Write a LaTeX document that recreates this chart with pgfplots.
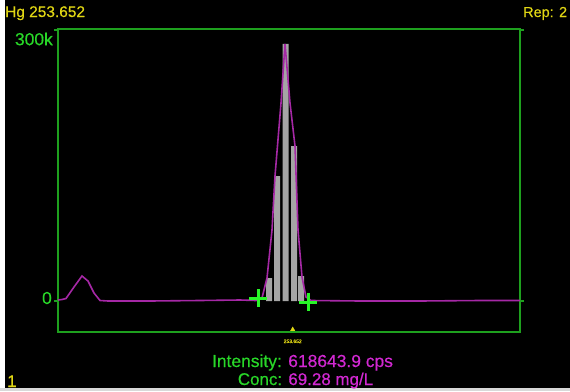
\documentclass[border=0pt]{standalone}
\usepackage{pgfplots}
\pgfplotsset{compat=1.18}
\usepackage{fontspec}
\setmainfont{Liberation Sans}
\newfontfamily\semib{Liberation Sans}[FakeBold=0.4]
\definecolor{axgreen}{RGB}{30,160,30}
\definecolor{lgreen}{RGB}{40,215,40}
\definecolor{crossgreen}{RGB}{40,245,40}
\definecolor{yel}{RGB}{225,215,20}
\definecolor{mag}{RGB}{210,40,210}
\definecolor{purp}{RGB}{165,40,165}
\definecolor{bargray}{RGB}{165,165,165}
\begin{document}
\begin{tikzpicture}[x=1bp,y=1bp]
\useasboundingbox (0,0) rectangle (570,391);
\fill[black] (0,0) rectangle (570,391);
\fill[white] (0,0) rectangle (5,391);
\fill[black!15] (0,0) rectangle (570,3);
\begin{axis}[
  at={(58bp,59bp)}, anchor=south west,
  scale only axis, width=462bp, height=303bp,
  xmin=0, xmax=462, ymin=-34317, ymax=301107,
  axis line style={axgreen, line width=1.6bp},
  xtick={234.7}, xticklabels={253.652},
  xtick style={draw=none},
  xticklabel style={font=\semib\fontsize{5}{5}\selectfont, text=yel},
  ytick={0,300000}, yticklabels={,},
  scaled y ticks=false,
  tick align=outside, major tick length=4bp,
  ytick style={axgreen, line width=1.6bp},
  clip=false,
]
\addplot[ybar, bar width=6, fill=bargray, draw=none] coordinates {
  (211,25461) (219,138375) (227.5,284499) (236,171585) (243,27675)
};
\addplot[purp, line width=1.6bp] coordinates {
  (0,1107) (4,1660) (8,2767) (16,15498) (24,27675) (30,22140) (36,8856)
  (42,554) (50,0) (92,0) (142,554) (182,1107) (198,554) (204,3321)
  (209,25461) (214,78597) (217,138375) (223,219186) (227,284499)
  (232,219186) (237,171585) (240,78597) (244,26568) (248,4428)
  (253,554) (302,0) (362,0) (422,554) (462,554)
};
\addplot[only marks, mark=+, mark size=9bp, crossgreen, line width=3bp] coordinates {
  (200,3321) (250,-1107)
};
\addplot[only marks, mark=triangle*, mark size=2.5bp, yel] coordinates {
  (234.7,-31550)
};
\end{axis}
\node[anchor=east, text=lgreen, font=\semib\fontsize{17.5}{19}\selectfont, inner sep=0pt] at (53,352) {300k};
\node[anchor=east, text=lgreen, font=\semib\fontsize{17.5}{19}\selectfont, inner sep=0pt] at (52,93) {0};
\node[anchor=base west, text=yel, font=\semib\fontsize{15.5}{17}\selectfont, inner sep=0pt] at (5,374) {Hg 253.652};
\node[anchor=base west, text=yel, font=\semib\fontsize{14.5}{17}\selectfont, inner sep=0pt] at (523,374) {Rep: 2};
\node[anchor=base, font=\semib\fontsize{17.5}{19}\selectfont, inner sep=0pt] at (302.5,24) {\textcolor{lgreen}{Intensity:} \textcolor{mag}{618643.9 cps}};
\node[anchor=base, font=\semib\fontsize{17}{19}\selectfont, inner sep=0pt] at (305.5,6) {\textcolor{lgreen}{Conc:} \textcolor{mag}{69.28 mg/L}};
\node[anchor=base west, text=yel, font=\semib\fontsize{17}{19}\selectfont, inner sep=0pt] at (7,4) {1};
\end{tikzpicture}
\end{document}
